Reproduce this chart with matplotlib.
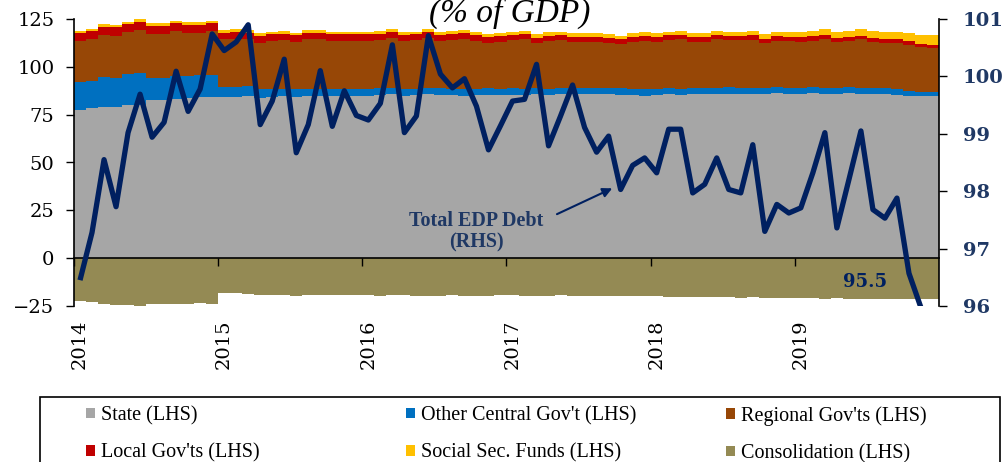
import numpy as np
import matplotlib.pyplot as plt
from matplotlib.patches import Patch, Rectangle
import matplotlib.transforms as mtransforms

# monthly data, Jan 2014 - Dec 2019 (% of GDP)
years = ['2014', '2015', '2016', '2017', '2018', '2019']

state = [77.4, 78.3, 78.8, 78.8, 80.0, 80.3, 82.6, 82.9, 83.3, 83.6, 84.0, 84.2,
         84.0, 84.3, 84.5, 83.8, 84.2, 84.6, 84.3, 84.5, 84.8, 84.6, 84.8, 85.0,
         85.0, 85.3, 85.6, 85.0, 85.2, 85.6, 85.3, 85.1, 85.0, 85.2, 85.4, 85.2,
         85.4, 85.2, 85.8, 85.3, 85.6, 85.8, 85.7, 85.9, 85.6, 85.5, 85.3, 85.0,
         85.4, 85.6, 85.2, 85.6, 85.8, 85.6, 86.0, 85.8, 85.7, 85.9, 86.1, 85.7,
         86.0, 86.4, 85.7, 86.0, 86.5, 85.9, 85.7, 85.9, 85.4, 84.9, 84.6, 84.5]

other_central = [14.5, 14.2, 16.0, 15.6, 16.1, 16.3, 11.7, 11.4, 12.1, 11.8, 11.6, 11.5,
                 5.6, 5.4, 5.6, 4.6, 4.4, 4.0, 4.2, 4.0, 3.8, 3.8, 3.6, 3.6,
                 3.6, 3.4, 3.5, 3.5, 3.4, 3.3, 3.4, 3.5, 3.4, 3.3, 3.3, 3.4,
                 3.3, 3.3, 3.2, 3.3, 3.2, 3.2, 3.3, 3.2, 3.2, 3.3, 3.2, 3.2,
                 3.2, 3.2, 3.2, 3.1, 3.2, 3.2, 3.2, 3.1, 3.2, 3.1, 3.1, 3.1,
                 3.0, 3.0, 3.0, 3.0, 3.0, 3.0, 3.0, 2.9, 2.8, 2.7, 2.5, 2.3]

regional = [21.5, 21.8, 21.8, 21.9, 21.9, 22.6, 23.0, 23.0, 23.2, 22.4, 22.2, 23.0,
            24.7, 25.0, 24.2, 24.2, 25.0, 25.3, 24.6, 25.9, 25.8, 25.3, 25.3, 25.1,
            25.1, 25.4, 25.9, 24.9, 25.3, 26.3, 24.7, 25.5, 26.3, 25.0, 23.8, 24.4,
            25.2, 25.8, 23.5, 24.9, 25.1, 24.1, 24.1, 23.9, 23.7, 23.1, 24.6, 25.4,
            24.5, 25.1, 25.9, 24.3, 24.0, 25.5, 24.7, 24.9, 25.3, 23.3, 24.4, 24.7,
            24.1, 24.3, 25.7, 23.8, 23.8, 25.4, 24.4, 23.9, 24.4, 24.0, 23.3, 23.3]

local = [4.3, 4.3, 4.4, 4.4, 4.3, 4.3, 4.2, 4.2, 4.2, 4.2, 4.2, 4.1,
         3.6, 3.6, 3.5, 3.5, 3.4, 3.4, 3.3, 3.3, 3.3, 3.2, 3.2, 3.2,
         3.2, 3.1, 3.1, 3.1, 3.0, 3.0, 3.0, 3.0, 2.9, 2.9, 2.9, 2.9,
         2.9, 2.8, 2.8, 2.8, 2.8, 2.7, 2.7, 2.7, 2.7, 2.6, 2.6, 2.6,
         2.6, 2.6, 2.5, 2.5, 2.5, 2.5, 2.4, 2.4, 2.4, 2.3, 2.3, 2.3,
         2.3, 2.2, 2.2, 2.1, 2.1, 2.0, 2.0, 1.9, 1.8, 1.7, 1.6, 1.5]

social_sec = [1.2, 1.2, 1.2, 1.2, 1.3, 1.3, 1.2, 1.2, 1.3, 1.3, 1.3, 1.3,
              1.3, 1.3, 1.4, 1.4, 1.4, 1.4, 1.4, 1.5, 1.5, 1.5, 1.5, 1.5,
              1.5, 1.5, 1.5, 1.5, 1.5, 1.6, 1.6, 1.6, 1.6, 1.6, 1.6, 1.6,
              1.6, 1.6, 1.7, 1.7, 1.7, 1.7, 1.7, 1.8, 1.8, 1.8, 1.8, 1.8,
              1.8, 1.9, 1.9, 2.0, 2.0, 2.1, 2.1, 2.2, 2.3, 2.4, 2.5, 2.6,
              2.6, 2.8, 3.0, 3.1, 3.3, 3.5, 3.6, 3.8, 4.0, 4.2, 4.6, 5.0]

consolidation = [-22.3, -22.8, -24.1, -24.5, -24.5, -25.5, -24.1, -24.1, -23.8, -23.8, -23.6, -23.8,
                 -18.1, -18.3, -18.6, -19.2, -19.3, -19.4, -19.6, -19.5, -19.4, -19.3, -19.2, -19.3,
                 -19.5, -19.6, -19.4, -19.3, -19.6, -19.8, -19.6, -19.5, -19.7, -19.8, -19.6, -19.5,
                 -19.4, -19.6, -19.8, -19.6, -19.5, -19.8, -19.9, -19.7, -19.6, -19.8, -20.0, -19.8,
                 -20.0, -20.2, -20.3, -20.1, -20.3, -20.5, -20.4, -20.6, -20.5, -20.7, -20.6, -20.8,
                 -20.9, -21.0, -21.1, -21.0, -21.2, -21.3, -21.2, -21.1, -21.3, -21.4, -21.4, -21.5]

total_edp = [96.45, 97.28, 98.55, 97.73, 99.02, 99.69, 98.94, 99.2, 100.09, 99.39, 99.78, 100.74,
             100.45, 100.6, 100.9, 99.16, 99.57, 100.3, 98.67, 99.16, 100.1, 99.13, 99.75, 99.32,
             99.24, 99.53, 100.55, 99.02, 99.31, 100.71, 100.04, 99.8, 99.96, 99.48, 98.72, 99.14,
             99.57, 99.6, 100.21, 98.79, 99.31, 99.85, 99.11, 98.68, 98.96, 98.03, 98.45, 98.58,
             98.32, 99.08, 99.08, 97.97, 98.12, 98.58, 98.03, 97.97, 98.81, 97.3, 97.77, 97.62,
             97.71, 98.32, 99.02, 97.36, 98.2, 99.05, 97.68, 97.53, 97.88, 96.57, 95.97, 95.5]

series = [('State (LHS)', state, '#A6A6A6'),
          ("Other Central Gov't (LHS)", other_central, '#0070C0'),
          ("Regional Gov'ts (LHS)", regional, '#974706'),
          ("Local Gov'ts (LHS)", local, '#C00000'),
          ('Social Sec. Funds (LHS)', social_sec, '#FFC000')]
cons_color = '#948A54'
line_color = '#002060'
rhs_color = '#1F3864'

num_font = 'DejaVu Serif'
txt_font = 'Liberation Serif'

x = np.arange(len(state)) + 0.5

fig = plt.figure(figsize=(10.04, 4.62), dpi=100)
ax = fig.add_axes([74 / 1004, 1 - 306 / 462, 865 / 1004, 287 / 462])

bottom = np.zeros(len(state))
for name, vals, col in series:
    ax.bar(x, vals, width=1.0, bottom=bottom, color=col, linewidth=0, antialiased=False, zorder=1)
    bottom += np.array(vals)
ax.bar(x, consolidation, width=1.0, color=cons_color, linewidth=0, antialiased=False, zorder=1)

ax.set_xlim(0, len(state))
ax.set_ylim(-25, 125)
ax.set_yticks(np.arange(-25, 126, 25))
ax.tick_params(axis='y', direction='out', length=6, width=1, pad=8, labelsize=14)
for lab in ax.get_yticklabels():
    lab.set_fontfamily(num_font)

# x axis sits on the zero line, year labels at the bottom
ax.spines['top'].set_visible(False)
ax.spines['right'].set_visible(False)
ax.spines['bottom'].set_position(('data', 0))
ax.spines['bottom'].set_linewidth(1.2)
ax.spines['left'].set_linewidth(1.2)
ax.set_xticks(np.arange(0, len(state), 12))
ax.tick_params(axis='x', direction='out', length=6, width=1, labelbottom=False)
trans = mtransforms.blended_transform_factory(ax.transData, ax.transAxes)
for k, yr in enumerate(years):
    ax.text(12 * k + 0.5, -0.048, yr, transform=trans, rotation=90, ha='center', va='top',
            fontsize=14, fontfamily=num_font)

# right axis: total EDP debt
ax2 = ax.twinx()
ax2.plot(x, total_edp, color=line_color, lw=3.8, solid_joinstyle='round', solid_capstyle='butt', zorder=3)
ax2.set_ylim(96, 101)
ax2.set_yticks(np.arange(96, 102, 1))
ax2.tick_params(axis='y', direction='out', length=6, width=1, pad=11, labelsize=14, labelcolor=rhs_color)
for lab in ax2.get_yticklabels():
    lab.set_fontfamily(num_font)
    lab.set_fontweight('bold')
for s in ['top', 'left', 'bottom']:
    ax2.spines[s].set_visible(False)
ax2.spines['right'].set_linewidth(1.2)

ax2.annotate('95.5', xy=(x[-1], total_edp[-1]), xytext=(-49, 38), textcoords='offset points',
             ha='center', va='center', fontsize=13, fontweight='bold', fontfamily=num_font,
             color=line_color, annotation_clip=False)

ax2.text(33.5, 97.3, 'Total EDP Debt\n(RHS)', ha='center', va='center', fontsize=14.5,
         fontweight='bold', fontfamily=txt_font, color=rhs_color, linespacing=1.1)
ax2.annotate('', xy=(44.8, 98.05), xytext=(40.2, 97.6),
             arrowprops=dict(arrowstyle='-|>', color=line_color, lw=1.5, mutation_scale=14,
                             shrinkA=0, shrinkB=0))

fig.text(0.508, 1 - 22 / 462, '(% of GDP)', ha='center', va='baseline', fontsize=24,
         fontstyle='italic', fontfamily=txt_font)

# legend: framed box cut at the bottom, three columns
fig.patches.append(Rectangle((40 / 1004, -0.1), 960 / 1004, 0.1 + 1 - 397 / 462,
                             transform=fig.transFigure, fill=False, edgecolor='black', lw=1.2))
handles = [Patch(facecolor=c, edgecolor='none', label=n) for n, v, c in series]
handles.append(Patch(facecolor=cons_color, edgecolor='none', label='Consolidation (LHS)'))
cols = [[handles[0], handles[3]], [handles[1], handles[4]], [handles[2], handles[5]]]
for k, col_handles in enumerate(cols):
    fig.legend(handles=col_handles, loc='upper left',
               bbox_to_anchor=((86 + 320 * k) / 1004, 1 - 406 / 462),
               frameon=False, prop={'family': txt_font, 'size': 14.5},
               handlelength=0.45, handleheight=0.45, handletextpad=0.3,
               labelspacing=0.9, borderpad=0, borderaxespad=0)

fig.savefig('out.png', dpi=100)
